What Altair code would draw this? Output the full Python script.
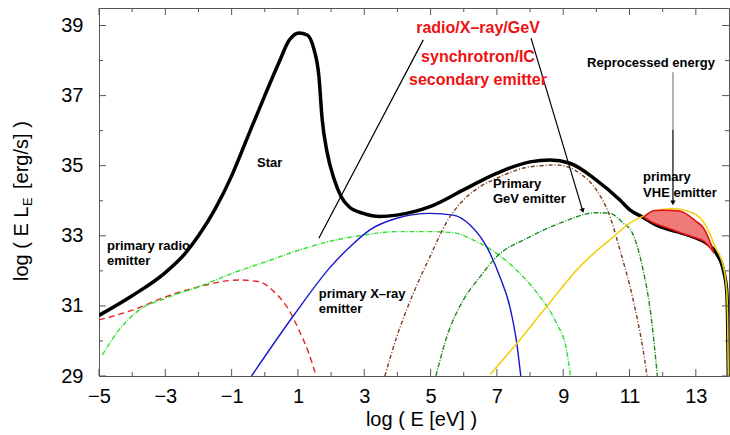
import altair as alt
import pandas as pd

X_MIN, X_MAX = -5, 14
Y_MIN, Y_MAX = 29, 39.5
W, H = 630, 368
FONT = "Liberation Sans"

# ---- curves (log E [eV], log E L_E [erg/s]) ----
total_x = [-5, -4, -3, -2.4, -2, -1.5, -1, -0.5, 0, 0.43, 0.73, 1.03, 1.28, 1.48, 1.63, 1.73,
           1.88, 2.09, 2.3, 2.55, 2.97, 3.47, 3.98, 4.98, 5.99, 6.99, 8.0, 8.6, 9.2, 10.0, 10.71,
           11.01, 11.36, 11.92, 12.42, 12.92, 13.32, 13.62, 13.83, 13.93, 13.96, 13.98]
total_y = [30.73, 31.29, 31.95, 32.5, 33.0, 33.76, 34.71, 35.86, 37.0, 37.95, 38.57, 38.79, 38.73,
           38.33, 37.57, 36.33, 35.38, 34.62, 34.12, 33.82, 33.64, 33.55, 33.59, 33.83, 34.31,
           34.78, 35.11, 35.16, 35.07, 34.59, 34.02, 33.74, 33.55, 33.26, 33.12, 32.97, 32.79,
           32.5, 32.02, 31.45, 30.5, 29.0]

xray_x = [-0.4, 0.88, 1.97, 2.54, 3.17, 3.98, 4.98, 5.68, 6.19, 6.69, 7.09, 7.39, 7.6, 7.72]
xray_y = [29.0, 30.74, 32.1, 32.66, 33.17, 33.5, 33.64, 33.59, 33.31, 32.69, 31.83, 30.98, 29.93, 29.0]

radio_x = [-5, -3.99, -2.99, -1.98, -0.78, -0.18, 0.33, 0.73, 1.03, 1.33, 1.55]
radio_y = [30.6, 30.88, 31.26, 31.55, 31.74, 31.69, 31.36, 30.88, 30.31, 29.64, 29.0]

second_x = [-4.9, -4.4, -3.79, -2.99, -1.98, -0.98, 0.03, 1.03, 2.04, 2.97, 3.98, 4.98, 5.68,
            6.29, 6.99, 7.69, 8.3, 8.8, 9.1, 9.22]
second_y = [29.6, 30.31, 30.88, 31.22, 31.55, 31.93, 32.26, 32.59, 32.86, 33.02, 33.12, 33.12,
            33.09, 32.88, 32.5, 31.93, 31.26, 30.5, 29.74, 29.0]

gev_x = [3.62, 3.98, 4.48, 4.98, 5.49, 5.99, 6.49, 6.99, 8.0, 8.8, 9.5, 10.0, 10.41, 10.71,
         11.11, 11.41, 11.53]
gev_y = [29.0, 30.12, 31.36, 32.4, 33.4, 34.02, 34.4, 34.64, 34.97, 35.02, 34.78, 34.31, 33.55,
         32.6, 31.17, 29.74, 29.0]

secgev_x = [5.16, 5.49, 5.99, 6.49, 6.99, 8.0, 9.0, 10.0, 10.41, 10.81, 11.08, 11.39, 11.65, 11.84]
secgev_y = [29.0, 30.12, 31.17, 31.83, 32.4, 32.97, 33.4, 33.66, 33.64, 33.36, 33.09, 32.11, 30.7, 29.0]

vhe_x = [6.8, 7.6, 8.5, 9.5, 10.51, 11.01, 11.39, 11.92, 12.31, 12.91, 13.32, 13.58, 13.83,
         13.93, 13.96, 13.98]
vhe_y = [29.05, 29.93, 30.98, 32.12, 32.97, 33.36, 33.55, 33.74, 33.77, 33.65, 33.26, 32.69,
         32.12, 31.45, 30.5, 29.0]

repro_x = [11.45, 11.75, 12.0, 12.5, 13.0, 13.25, 13.52]
repro_top = [33.55, 33.72, 33.73, 33.71, 33.42, 33.2, 32.6]
repro_bot = [33.52, 33.36, 33.27, 33.1, 32.94, 32.84, 32.55]

# ---- axes ----
major_x = [-5, -3, -1, 1, 3, 5, 7, 9, 11, 13]
minor_x = [-4, -2, 0, 2, 4, 6, 8, 10, 12]
major_y = [29, 31, 33, 35, 37, 39]
minor_y = [30, 32, 34, 36, 38]

# ---- annotations ----
black_labels = ["Star", "primary radio", "emitter", "primary X\u2013ray", "emitter",
                "Primary", "GeV emitter", "primary", "VHE emitter", "Reprocessed energy"]
black_lx = [-0.235, -4.76, -4.76, 1.63, 1.63, 6.88, 6.88, 11.41, 11.41, 9.72]
black_ly = [35.08, 32.70, 32.27, 31.35, 30.92, 34.49, 34.06, 34.68, 34.22, 37.93]

red_labels = ["radio/X\u2013ray/GeV", "synchrotron/IC", "secondary emitter"]
red_lx = [6.43, 6.43, 6.43]
red_ly = [38.93, 38.10, 37.45]

seg_x = [1.63, 8.03, 12.31]
seg_y = [32.93, 38.64, 36.02]
seg_x2 = [4.78, 9.58, 12.31]
seg_y2 = [38.59, 33.74, 33.96]
gray_seg = {"x": [12.31], "y": [37.67], "x2": [12.31], "y2": [36.02]}
head_x = [9.59, 12.31]
head_y = [33.72, 33.94]
head_angle = [343.5, 0]

xsc = alt.Scale(domain=[X_MIN, X_MAX], nice=False, zero=False)
ysc = alt.Scale(domain=[Y_MIN, Y_MAX], nice=False, zero=False)
xax = alt.Axis(values=major_x, ticks=False, domain=False, grid=False, labelFontSize=20,
               labelFont=FONT, labelColor="black", labelPadding=10, labelFlush=False,
               labelOverlap=False, title="log ( E [eV] )", titleFont=FONT, titleFontSize=20,
               titleFontWeight="normal", titleColor="black", titleX=322, titleY=49,
               titleBaseline="alphabetic")
yax = alt.Axis(values=major_y, ticks=False, domain=False, grid=False, labelFontSize=20,
               labelFont=FONT, labelColor="black", labelPadding=16, labelOverlap=False,
               title=None)

X = lambda f="x": alt.X(f + ":Q", scale=xsc, axis=xax)
Y = lambda f="y": alt.Y(f + ":Q", scale=ysc, axis=yax)


def line(xs, ys, color, width, dash=None):
    mk = dict(color=color, strokeWidth=width, interpolate="monotone", clip=True)
    if dash:
        mk["strokeDash"] = dash
    return alt.Chart(pd.DataFrame({"x": xs, "y": ys})).mark_line(**mk).encode(x=X(), y=Y())


layers = [
    line(radio_x, radio_y, "#e52222", 1.4, [6, 4]),
    line(second_x, second_y, "#33dd33", 1.4, [5, 1.5, 1, 1.5]),
    line(xray_x, xray_y, "#1515cc", 1.4),
    line(gev_x, gev_y, "#7a3b1e", 1.4, [4, 2, 1, 2]),
    line(secgev_x, secgev_y, "#1f8a1f", 1.4, [5, 1.5, 1, 1.5]),
    line(total_x, total_y, "black", 3.5),
    line(vhe_x, vhe_y, "#f2d010", 1.6),
    alt.Chart(pd.DataFrame({"x": repro_x, "y": repro_top, "y2": repro_bot})).mark_area(
        color="#f07a7a", stroke="#e01010", strokeWidth=1.6, interpolate="monotone"
    ).encode(x=X(), y=Y(), y2="y2:Q"),
]

# annotation lines and arrows
layers.append(alt.Chart(pd.DataFrame(gray_seg)).mark_rule(color="#8a8a8a", strokeWidth=1.3).encode(
    x=X(), y=Y(), x2="x2:Q", y2="y2:Q"))
layers.append(alt.Chart(pd.DataFrame({"x": seg_x, "y": seg_y, "x2": seg_x2, "y2": seg_y2}))
              .mark_rule(color="black", strokeWidth=1.2).encode(x=X(), y=Y(), x2="x2:Q", y2="y2:Q"))
for hx, hy, ha in zip(head_x, head_y, head_angle):
    layers.append(alt.Chart(pd.DataFrame({"x": [hx], "y": [hy]})).mark_point(
        shape="triangle-down", filled=True, size=28, color="black", opacity=1, angle=ha
    ).encode(x=X(), y=Y()))

layers.append(alt.Chart(pd.DataFrame({"x": black_lx, "y": black_ly, "t": black_labels})).mark_text(
    align="left", baseline="middle", font=FONT, fontSize=13, fontWeight="bold", color="black"
).encode(x=X(), y=Y(), text="t:N"))
layers.append(alt.Chart(pd.DataFrame({"x": red_lx, "y": red_ly, "t": red_labels})).mark_text(
    align="center", baseline="middle", font=FONT, fontSize=16, fontWeight="bold", color="#ee1111"
).encode(x=X(), y=Y(), text="t:N"))

# frame ticks (inward)
TC = "#555555"
for vals, ln in ((major_x, 7), (minor_x, 4)):
    d = pd.DataFrame({"x": vals})
    layers.append(alt.Chart(d).mark_rule(color=TC).encode(x=X(), y=alt.value(H), y2=alt.value(H - ln)))
    layers.append(alt.Chart(d).mark_rule(color=TC).encode(x=X(), y=alt.value(0), y2=alt.value(ln)))
for vals, ln in ((major_y, 7), (minor_y, 4)):
    d = pd.DataFrame({"y": vals})
    layers.append(alt.Chart(d).mark_rule(color=TC).encode(y=Y(), x=alt.value(0), x2=alt.value(ln)))
    layers.append(alt.Chart(d).mark_rule(color=TC).encode(y=Y(), x=alt.value(W), x2=alt.value(W - ln)))

# y-axis title with subscript
ytitle = [("log ( E L", 20, -71, 273), ("E", 13, -67, 198), ("[erg/s] )", 20, -71, 181)]
for txt, fs, px, py in ytitle:
    layers.append(alt.Chart(pd.DataFrame({"t": [txt]})).mark_text(
        align="left", baseline="alphabetic", angle=270, font=FONT, fontSize=fs, color="black"
    ).encode(text="t:N", x=alt.value(px), y=alt.value(py)))

chart = alt.layer(*layers).properties(
    width=W, height=H, autosize=alt.AutoSizeParams(type="none"),
    padding={"left": 99, "top": 8, "right": 1, "bottom": 59}, background="white"
).configure_view(stroke="#555555", strokeWidth=1)

chart.save("out.html", embed_options={"renderer": "svg", "actions": False})
